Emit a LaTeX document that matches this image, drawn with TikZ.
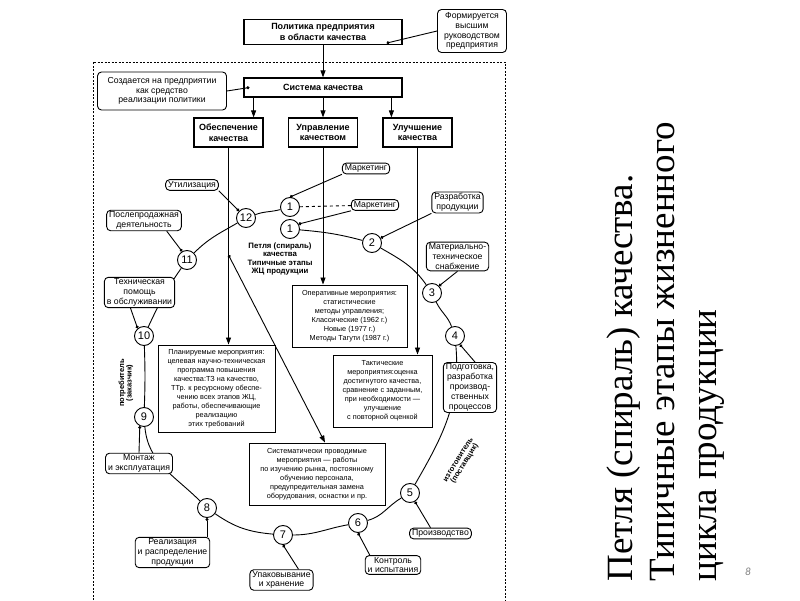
\documentclass[tikz,border=0pt]{standalone}
\usepackage{fontspec}
\setmainfont{Liberation Serif}
\setsansfont{Liberation Sans}
\newfontfamily\pagenumfont{Carlito}
\usetikzlibrary{arrows.meta}

\begin{document}
\begin{tikzpicture}[x=1pt, y=1pt, font=\sffamily, line width=0.9pt,
        headbox/.style={draw, line width=1.2pt, inner sep=1pt, align=center,
            font=\sffamily\bfseries\fontsize{9}{10.5}\selectfont},
        labelbox/.style={draw, rounded corners=4pt, fill=white, inner xsep=2.5pt, inner ysep=1.5pt,
            align=center, font=\sffamily\fontsize{8.7}{9.8}\selectfont},
        textbox/.style={draw, fill=white, inner sep=2.5pt, align=center,
            font=\sffamily\fontsize{7.3}{9}\selectfont},
        stage/.style={draw, circle, fill=white, minimum size=19pt, inner sep=0pt,
            font=\sffamily\fontsize{11}{11}\selectfont},
        arrow/.style={-{Triangle[length=7pt,width=5pt]}},
        tie/.style={-{Circle[length=3pt]}}
    ]
    \useasboundingbox (0,0) rectangle (800,600);

    % dashed frame of the quality system
    \draw[dash pattern=on 2pt off 1.5pt, line width=0.7pt] (93,0) -- (93,538) -- (505,538) -- (505,0);

    % policy and quality system
    \node[headbox, minimum width=158pt, minimum height=25pt] (policy) at (323,568)
        {Политика предприятия\\в области качества};
    \node[labelbox, minimum width=69pt, minimum height=43pt] (formed) at (472,569)
        {Формируется\\высшим\\руководством\\предприятия};
    \node[headbox, minimum width=158pt, minimum height=19pt] (system) at (323,512.5) {Система качества};
    \node[labelbox, minimum width=129pt, minimum height=38pt] (created) at (162,509)
        {Создается на предприятии\\как средство\\реализации политики};

    \node[headbox, minimum width=69pt, minimum height=29pt] (ensure) at (228.5,467.5) {Обеспечение\\качества};
    \node[headbox, minimum width=69pt, minimum height=29pt] (manage) at (323,467.5) {Управление\\качеством};
    \node[headbox, minimum width=69pt, minimum height=29pt] (improve) at (417.5,467.5) {Улучшение\\качества};

    \draw[arrow] (policy) -- (system);
    \draw[tie] (formed.west) -- ([shift={(-16pt,2pt)}]policy.south east);
    \draw[tie] (created.east) -- ([xshift=6pt]system.west);

    \coordinate (ensuretop) at ([xshift=-10pt]ensure.north east);
    \coordinate (improvetop) at ([xshift=9pt]improve.north west);
    \draw[arrow] (ensuretop |- system.south) -- (ensuretop);
    \draw[arrow] (system) -- (manage);
    \draw[arrow] (improvetop |- system.south) -- (improvetop);

    % measures
    \node[textbox, minimum width=115pt, minimum height=62pt] (operative) at (349.5,284)
        {Оперативные мероприятия:\\статистические\\методы управления;\\Классические (1962 г.)\\Новые (1977 г.)\\Методы Тагути (1987 г.)};
    \node[textbox, minimum width=117pt, minimum height=87pt] (planned) at (216.5,211.5)
        {Планируемые мероприятия:\\целевая научно-техническая\\программа повышения\\качества:ТЗ на качество,\\ТТр. к ресурсному обеспе-\\чению всех этапов ЖЦ,\\работы, обеспечивающие\\реализацию\\этих требований};
    \node[textbox, minimum width=99pt, minimum height=72pt] (tactical) at (382.5,209)
        {Тактические\\мероприятия:оценка\\достигнутого качества,\\сравнение с заданным,\\при необходимости —\\улучшение\\с повторной оценкой};
    \node[textbox, minimum width=136pt, minimum height=62pt] (systematic) at (317,126)
        {Систематически проводимые\\мероприятия — работы\\по изучению рынка, постоянному\\обучению персонала,\\предупредительная замена\\оборудования, оснастки и пр.};

    \draw[arrow] (ensure.south) -- (ensure.south |- planned.north);
    \draw[arrow] (manage.south) -- (manage.south |- operative.north);
    \draw[arrow] (improve.south) -- (improve.south |- tactical.north);
    \coordinate (branch) at (ensure.south |- 0,345);
    \draw[{Circle[length=3pt]}-{Triangle[length=7pt,width=5pt]}] (branch) -- ([xshift=8pt]systematic.north);

    % stages of the loop
    \node[stage] (c1a) at (290,393) {1};
    \node[stage] (c1b) at (290,371) {1};
    \node[stage] (c2) at (372,357) {2};
    \node[stage] (c3) at (432,307) {3};
    \node[stage] (c4) at (455,264) {4};
    \node[stage] (c5) at (410,107) {5};
    \node[stage] (c6) at (358,77) {6};
    \node[stage] (c7) at (283,65) {7};
    \node[stage] (c8) at (207,92) {8};
    \node[stage] (c9) at (144,183) {9};
    \node[stage] (c10) at (144,264) {10};
    \node[stage] (c11) at (187,340) {11};
    \node[stage] (c12) at (246,382) {12};

    \draw (c1b) to[out=-5,in=165] (c2)
        to[out=-30,in=125] (c3)
        to[out=-65,in=110] (c4)
        to[out=-85,in=60] (c5)
        to[out=-150,in=15] (c6)
        to[out=-170,in=0] (c7)
        to[out=175,in=-35] (c8)
        to[out=135,in=-85] (c9)
        to[out=88,in=-88] (c10)
        to[out=65,in=-125] (c11)
        to[out=45,in=-150] (c12)
        to[out=20,in=-165] (c1a);

    % stage names
    \node[labelbox] (mark1) at (366,431.5) {Маркетинг};
    \node[labelbox] (mark2) at (375,395) {Маркетинг};
    \node[labelbox] (util) at (192,415) {Утилизация};
    \node[labelbox] (after) at (144,379.5) {Послепродажная\\деятельность};
    \node[labelbox] (techhelp) at (139.5,307.5) {Техническая\\помощь\\в обслуживании};
    \node[labelbox] (mount) at (139,136.5) {Монтаж\\и эксплуатация};
    \node[labelbox] (realize) at (172.5,47.5) {Реализация\\и распределение\\продукции};
    \node[labelbox] (pack) at (281.5,20) {Упаковывание\\и хранение};
    \node[labelbox] (control) at (393,35) {Контроль\\и испытания};
    \node[labelbox] (produce) at (440.5,66.5) {Производство};
    \node[labelbox] (prepare) at (470,212.5) {Подготовка,\\разработка\\производ-\\ственных\\процессов};
    \node[labelbox] (supply) at (457.5,343.5) {Материально-\\техническое\\снабжение};
    \node[labelbox] (develop) at (457.5,397.5) {Разработка\\продукции};

    \draw[dashed] (c1a) -- (mark2);
    \draw[tie] (mark1.south west) -- (c1a.north);
    \draw[tie] (mark2.south west) -- (c1b.30);
    \draw[tie] (util.south east) -- (c12.135);
    \draw[tie] ([xshift=-15pt]after.south east) -- (c11.120);
    \draw[tie] ([xshift=-9pt]techhelp.south) -- (c10.130);
    \draw[tie] (mount.north) -- (c9.-115);
    \draw[tie] (c8.south |- realize.north) -- (c8.south);
    \draw[tie] ([xshift=-15pt]pack.north east) -- (c7.south);
    \draw[tie] ([xshift=5pt]control.north west) -- (c6.south);
    \draw[tie] ([xshift=-10pt]produce.north) -- (c5.-60);
    \draw[tie] ([xshift=5pt]prepare.north) -- (c4.-60);
    \draw[tie] (supply.south) -- (c3.45);
    \draw[tie] (develop.south west) -- (c2.30);

    % loop caption and sides
    \node[font=\sffamily\bfseries\fontsize{7.8}{8.2}\selectfont, align=center] (loopname) at (280,341)
        {Петля (спираль)\\качества\\Типичные этапы\\ЖЦ продукции};
    \node[rotate=90, font=\sffamily\bfseries\fontsize{7.5}{7.5}\selectfont, align=center] (consumer) at (126,217)
        {потребитель\\(заказчик)};
    \node[rotate=58, font=\sffamily\bfseries\fontsize{7.5}{7.5}\selectfont, align=center] (maker) at (462,138)
        {изготовитель\\(поставщик)};

    % slide title
    \node[rotate=90, anchor=north west, inner sep=0pt, align=left,
        font=\rmfamily\fontsize{37}{42}\selectfont] (title) at (606,18)
        {Петля (спираль) качества.\\Типичные этапы жизненного\\цикла продукции};
    \node[font=\pagenumfont\itshape\fontsize{11}{11}\selectfont, text=gray] (pagenum) at (748,28) {8};
\end{tikzpicture}
\end{document}
